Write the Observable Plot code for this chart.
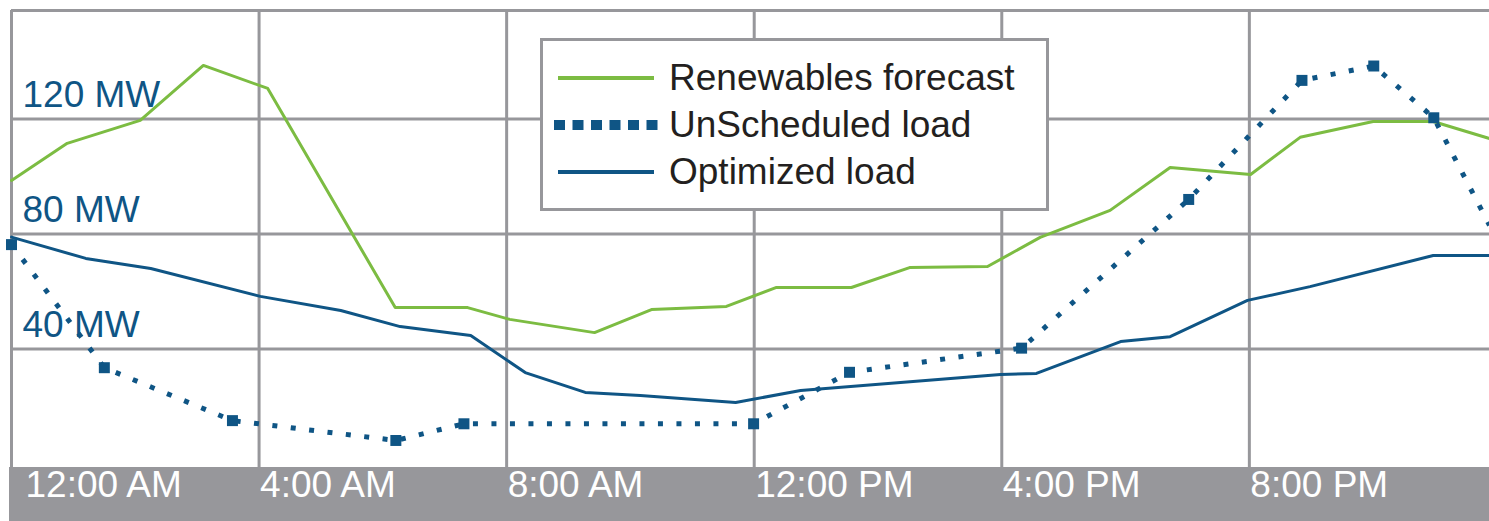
<!DOCTYPE html>
<html>
<head>
<meta charset="utf-8">
<script src="https://cdn.jsdelivr.net/npm/d3@7"></script>
<script src="https://cdn.jsdelivr.net/npm/@observablehq/plot@0.6"></script>
<style>
  html, body { margin: 0; padding: 0; background: #fff; }
  #wrap { position: relative; width: 1489px; height: 521px; overflow: hidden;
          font-family: "Liberation Sans", Arial, sans-serif; }
  #band { position: absolute; left: 9px; right: 0; top: 467px; bottom: 0; background: #97979b; }
  #chart { position: absolute; left: 0; top: 0; }
  #legend { position: absolute; left: 540px; top: 38px; width: 509px; height: 173px;
            box-sizing: border-box; border: 3px solid #97979b; background: #fff;
            padding: 13px 0 0 11px; }
  .row { display: flex; align-items: center; height: 47px; }
  .row svg { flex: none; margin-right: 11px; }
  .row span { font-size: 37px; line-height: 1; color: #231f20; white-space: nowrap; }
</style>
</head>
<body>
<div id="wrap">
  <div id="band"></div>
  <div id="chart"></div>
  <div id="legend"></div>
</div>
<script>
// ---- data (hours after midnight, MW) ----
const renewHours = [0, 0.90, 2.08, 3.10, 4.14, 6.20, 7.37, 8.05, 9.42, 10.34, 11.55, 12.36, 13.57, 14.51, 15.77, 16.62, 17.75, 18.72, 20.02, 20.82, 22.00, 22.97, 23.88];
const renewMW    = [98.6, 111.5, 119.5, 138.6, 130.6, 54.4, 54.4, 50.3, 45.7, 53.7, 54.8, 61.4, 61.4, 68.3, 68.7, 78.8, 88.2, 103.1, 100.7, 113.6, 119.1, 119.1, 113.2];

const unschedHours = [0, 1.50, 3.57, 6.21, 7.31, 11.99, 13.54, 16.32, 19.02, 20.85, 22.01, 22.98, 23.88];
const unschedMW    = [76.3, 33.5, 15.1, 8.2, 14.0, 14.0, 31.9, 40.3, 92.0, 133.4, 138.4, 120.4, 83.0];

const optHours = [0, 1.20, 2.25, 4.02, 5.32, 6.28, 7.42, 8.30, 9.27, 10.16, 11.70, 12.75, 15.98, 16.56, 17.92, 18.72, 19.97, 20.98, 22.97, 23.88];
const optMW    = [78.9, 71.5, 68.0, 58.3, 53.4, 47.8, 44.7, 31.8, 24.9, 23.8, 21.4, 25.6, 31.1, 31.5, 42.6, 44.3, 56.9, 61.7, 72.5, 72.5];

const xTicks = [0, 4, 8, 12, 16, 20];
const xTickLabels = ["12:00 AM", "4:00 AM", "8:00 AM", "12:00 PM", "4:00 PM", "8:00 PM"];
const yTicks = [40, 80, 120];
const yTickLabels = ["40 MW", "80 MW", "120 MW"];
const seriesNames = ["Renewables forecast", "UnScheduled load", "Optimized load"];

const xDomain = [0, 23.88];
const yDomain = [-1.2, 157.7];

// ---- styles ----
const green = "#7cbc42";
const blue = "#0f5585";
const grid = "#97979b";
const font = "Liberation Sans, Arial, sans-serif";

const toRows = (hs, vs) => hs.map((h, i) => ({h, v: vs[i]}));
const renew = toRows(renewHours, renewMW);
const unsched = toRows(unschedHours, unschedMW);
const opt = toRows(optHours, optMW);
const xt = xTicks.map((h, i) => ({h, label: xTickLabels[i]}));
const yt = yTicks.map((v, i) => ({v, label: yTickLabels[i]}));

const chart = Plot.plot({
  width: 1489, height: 521,
  marginLeft: 11, marginRight: 0, marginTop: 10, marginBottom: 54,
  style: {background: "transparent", fontFamily: font, overflow: "visible"},
  x: {domain: xDomain, axis: null},
  y: {domain: yDomain, axis: null},
  marks: [
    Plot.ruleX(xTicks, {stroke: grid, strokeWidth: 3}),
    Plot.ruleY(yTicks, {stroke: grid, strokeWidth: 3}),
    Plot.ruleY([yDomain[1]], {stroke: grid, strokeWidth: 3}),
    Plot.text(yt, {y: "v", text: "label", frameAnchor: "left", textAnchor: "start",
                   dx: 11, dy: -24, fontSize: 37, fill: blue}),
    Plot.line(renew, {x: "h", y: "v", stroke: green, strokeWidth: 3}),
    Plot.line(opt, {x: "h", y: "v", stroke: blue, strokeWidth: 3}),
    Plot.line(unsched, {x: "h", y: "v", stroke: blue, strokeWidth: 5,
                        strokeDasharray: "5 13.5", strokeLinecap: "butt"}),
    Plot.dot(unsched.slice(0, -1), {x: "h", y: "v", symbol: "square", r: 6.2, fill: blue, stroke: null}),
    Plot.text(xt.slice(0, 1), {x: "h", text: "label", frameAnchor: "bottom", textAnchor: "start",
                               dx: 14, dy: 29.5, fontSize: 37, fill: "white"}),
    Plot.text(xt.slice(1), {x: "h", text: "label", frameAnchor: "bottom", textAnchor: "start",
                            dx: 1, dy: 29.5, fontSize: 37, fill: "white"})
  ]
});
document.getElementById("chart").append(chart);

// ---- legend ----
const legend = d3.select("#legend");
const swatches = [
  svg => svg.append("line").attr("x1", 4).attr("x2", 100).attr("y1", 12).attr("y2", 12)
            .attr("stroke", green).attr("stroke-width", 4),
  svg => svg.selectAll("rect").data(d3.range(6)).join("rect")
            .attr("x", i => i * 18.5).attr("y", 7).attr("width", 11).attr("height", 10).attr("fill", blue),
  svg => svg.append("line").attr("x1", 4).attr("x2", 100).attr("y1", 12).attr("y2", 12)
            .attr("stroke", blue).attr("stroke-width", 4)
];
seriesNames.forEach((name, i) => {
  const row = legend.append("div").attr("class", "row");
  const svg = row.append("svg").attr("width", 104).attr("height", 24);
  swatches[i](svg);
  row.append("span").text(name);
});
</script>
</body>
</html>
